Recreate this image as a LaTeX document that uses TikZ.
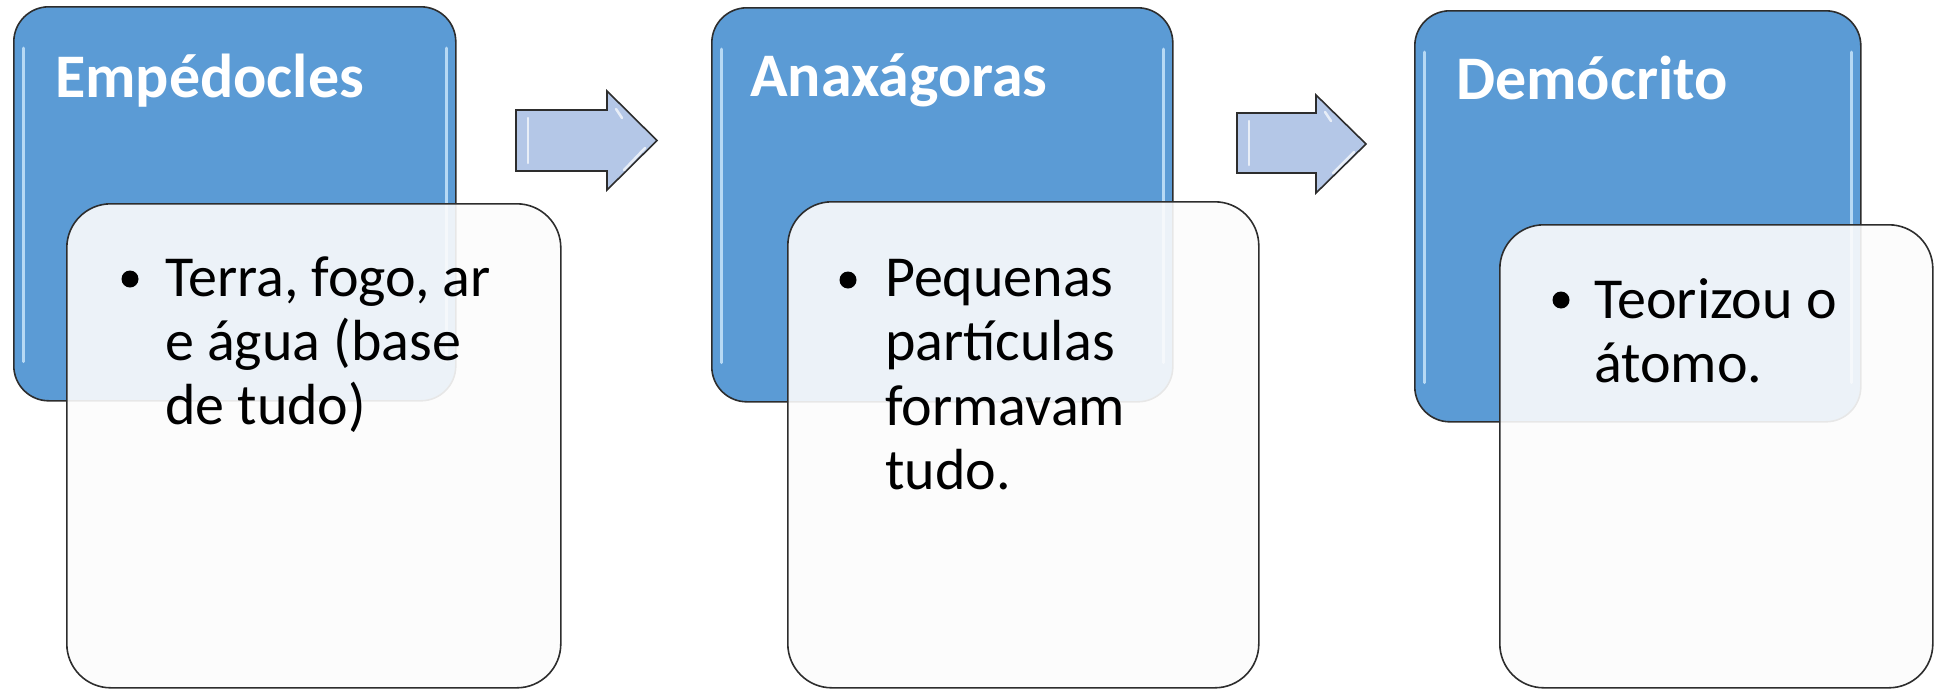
\documentclass[tikz,border=0pt]{standalone}
\usepackage{fontspec}
\setmainfont{Carlito}
\definecolor{accblue}{RGB}{91,155,213}
\definecolor{arrowblue}{RGB}{180,199,231}
\definecolor{edgegray}{RGB}{45,45,45}
\definecolor{paper}{RGB}{252,252,252}
\definecolor{glint}{RGB}{215,238,255}
\tikzset{
  bluebox/.style={draw=edgegray, line width=1.6pt, fill=accblue, rounded corners=35pt, inner sep=0pt, anchor=north west},
  whitebox/.style={draw=edgegray, line width=1.6pt, fill=paper, fill opacity=0.9, rounded corners=44pt, inner sep=0pt, anchor=north west},
  hl/.style={draw=glint, opacity=0.75, line width=3pt, line cap=round},
  titletext/.style={font=\bfseries\fontsize{62}{70}\selectfont, text=white, anchor=base west, inner sep=0pt},
  bodytext/.style={font=\fontsize{58}{64}\selectfont, text=black, anchor=base west, inner sep=0pt},
  bulletdot/.style={circle, fill=black, inner sep=0pt, minimum size=17pt},
  blockarrow/.style={draw=edgegray, line width=1.6pt, fill=arrowblue, line join=miter},
  arrowhl/.style={draw=white, opacity=0.7, line width=2.5pt, line cap=round}
}
\begin{document}
\begin{tikzpicture}[x=1pt,y=-1pt]
\useasboundingbox (0,0) rectangle (1934,691);
% ---------- panel 1 ----------
\node[bluebox, minimum width=442pt, minimum height=394pt] (p1) at (13,6) {};
\draw[hl] ([xshift=10pt,yshift=-42pt]p1.north west) -- ([xshift=10pt,yshift=40pt]p1.south west);
\draw[hl] ([xshift=-10pt,yshift=-42pt]p1.north east) -- ([xshift=-10pt,yshift=40pt]p1.south east);
\node[titletext] (h1) at (55,97) {Empédocles};
\node[whitebox, minimum width=494pt, minimum height=484pt] (w1) at (66,203) {};
\node[bulletdot] (d1) at (130,279) {};
\node[bodytext] (t1a) at (165,296) {Terra, fogo, ar};
\node[bodytext] (t1b) at (165,360) {e água (base};
\node[bodytext] (t1c) at (165,424) {de tudo)};
% ---------- arrow 1 ----------
\draw[blockarrow] (516,110) -- (607,110) -- (607,91) -- (657,140.5) -- (607,190) -- (607,171) -- (516,171) -- cycle;
\draw[arrowhl] (528,118) -- (528,163);
\draw[arrowhl] (645,148) -- (624,170);
\draw[arrowhl] (616,109) -- (622,118);
% ---------- panel 2 ----------
\node[bluebox, minimum width=461pt, minimum height=394pt] (p2) at (711,7) {};
\draw[hl] ([xshift=10pt,yshift=-42pt]p2.north west) -- ([xshift=10pt,yshift=40pt]p2.south west);
\draw[hl] ([xshift=-10pt,yshift=-42pt]p2.north east) -- ([xshift=-10pt,yshift=40pt]p2.south east);
\node[titletext] (h2) at (750,96) {Anaxágoras};
\node[whitebox, minimum width=471pt, minimum height=486pt] (w2) at (787,201) {};
\node[bulletdot] (d2) at (848,280) {};
\node[bodytext] (t2a) at (885,296) {Pequenas};
\node[bodytext] (t2b) at (885,360) {partículas};
\node[bodytext] (t2c) at (885,425) {formavam};
\node[bodytext] (t2d) at (885,489) {tudo.};
% ---------- arrow 2 ----------
\draw[blockarrow] (1237,113) -- (1316,113) -- (1316,95) -- (1366,144) -- (1316,193) -- (1316,173) -- (1237,173) -- cycle;
\draw[arrowhl] (1249,121) -- (1249,165);
\draw[arrowhl] (1354,152) -- (1333,173);
\draw[arrowhl] (1325,112) -- (1331,121);
% ---------- panel 3 ----------
\node[bluebox, minimum width=446pt, minimum height=411pt] (p3) at (1414,10) {};
\draw[hl] ([xshift=10pt,yshift=-42pt]p3.north west) -- ([xshift=10pt,yshift=40pt]p3.south west);
\draw[hl] ([xshift=-10pt,yshift=-42pt]p3.north east) -- ([xshift=-10pt,yshift=40pt]p3.south east);
\node[titletext] (h3) at (1456,99) {Demócrito};
\node[whitebox, minimum width=433pt, minimum height=463pt] (w3) at (1499,224) {};
\node[bulletdot] (d3) at (1561,300) {};
\node[bodytext] (t3a) at (1594,318) {Teorizou o};
\node[bodytext] (t3b) at (1594,382) {átomo.};
\end{tikzpicture}
\end{document}
